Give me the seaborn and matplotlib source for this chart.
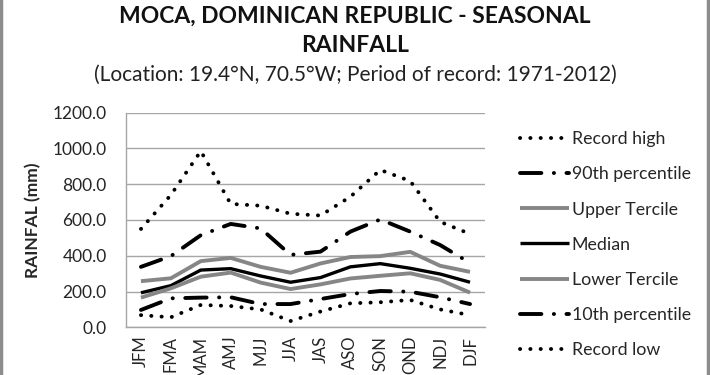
import matplotlib
matplotlib.use("Agg")
import matplotlib.pyplot as plt
from matplotlib.lines import Line2D
import seaborn as sns
import numpy as np

seasons = ["JFM", "FMA", "MAM", "AMJ", "MJJ", "JJA", "JAS", "ASO", "SON", "OND", "NDJ", "DJF"]
record_high = [550, 740, 985, 690, 680, 635, 625, 730, 880, 818, 590, 522]
p90 = [338, 398, 515, 578, 553, 405, 423, 535, 603, 535, 460, 360]
upper_tercile = [258, 274, 370, 388, 338, 305, 357, 393, 398, 422, 344, 310]
median = [193, 233, 320, 328, 287, 252, 278, 338, 356, 330, 298, 252]
lower_tercile = [166, 218, 283, 306, 250, 214, 240, 273, 288, 302, 265, 194]
p10 = [97, 162, 166, 168, 130, 130, 158, 186, 203, 199, 168, 130]
record_low = [68, 56, 125, 119, 100, 35, 88, 134, 140, 153, 100, 68]
labels = ["Record high", "90th percentile", "Upper Tercile", "Median",
          "Lower Tercile", "10th percentile", "Record low"]

sns.set_theme(style="white")
plt.rcParams['font.family'] = ['Lato', 'DejaVu Sans']

fig = plt.figure(figsize=(7.1, 3.75), dpi=100)
ax = fig.add_axes([126/710, 1-327.3/375, (485-126)/710, (327.3-112.7)/375])

dot = (0, (0.05, 2.6))
dashdot = (0, (5.5, 3.2, 0.05, 3.2))
styles = [
    (record_high, "black", 2.8, dot),
    (p90, "black", 2.8, dashdot),
    (upper_tercile, "#868686", 2.8, "-"),
    (median, "black", 2.4, "-"),
    (lower_tercile, "#868686", 2.8, "-"),
    (p10, "black", 2.8, dashdot),
    (record_low, "black", 2.8, dot),
]
for (vals, col, lw, ls), lab in zip(styles, labels):
    sns.lineplot(x=seasons, y=vals, ax=ax, color=col, lw=lw, linestyle=ls,
                 dash_capstyle="round", solid_capstyle="butt", label=lab,
                 sort=False)

ax.set_xlim(-0.5, 11.5)
ax.set_ylim(0, 1200)
ax.set_yticks(np.arange(0, 1201, 200))
ax.set_yticklabels([f"{v:.1f}" for v in np.arange(0, 1201, 200)], fontsize=12.5, color="#262626")
ax.set_xticks(range(12))
ax.set_xticklabels(seasons, rotation=90, fontsize=12, color="#262626", va="top")
ax.tick_params(axis="y", length=0, pad=14)
ax.tick_params(axis="x", length=0, pad=6)
ax.grid(axis="y", color="#a6a6a6", lw=1)
ax.set_axisbelow(True)
for s in ["top", "right"]:
    ax.spines[s].set_visible(False)
for s in ["left", "bottom"]:
    ax.spines[s].set_color("#a6a6a6")
    ax.spines[s].set_linewidth(1)
ax.set_xlabel("")
ax.set_ylabel("RAINFAL (mm)", fontsize=12.5, fontweight="bold", labelpad=8)

handles, labs = ax.get_legend_handles_labels()
ax.legend(handles, labs, loc="upper left", bbox_to_anchor=(513/710, 1-124/375),
          bbox_transform=fig.transFigure, frameon=False, fontsize=12.8,
          handlelength=2.75, handletextpad=0.15, labelspacing=1.08, borderaxespad=0)

fig.text(0.5, 1-16/375, "MOCA, DOMINICAN REPUBLIC - SEASONAL", ha="center", va="center",
         fontsize=16.5, fontweight="bold", color="#111111")
fig.text(0.5, 1-46/375, "RAINFALL", ha="center", va="center",
         fontsize=16.5, fontweight="bold", color="#111111")
fig.text(0.5, 1-75/375, "(Location: 19.4°N, 70.5°W; Period of record: 1971-2012)", ha="center",
         va="center", fontsize=15, color="#222222")

fig.add_artist(Line2D([1.5/710, 1.5/710], [0, 1], color="#8c8c8c", lw=2.5, transform=fig.transFigure))
fig.add_artist(Line2D([708/710, 708/710], [0, 1], color="#8c8c8c", lw=2.5, transform=fig.transFigure))

fig.savefig("out.png", dpi=100, facecolor="white")
